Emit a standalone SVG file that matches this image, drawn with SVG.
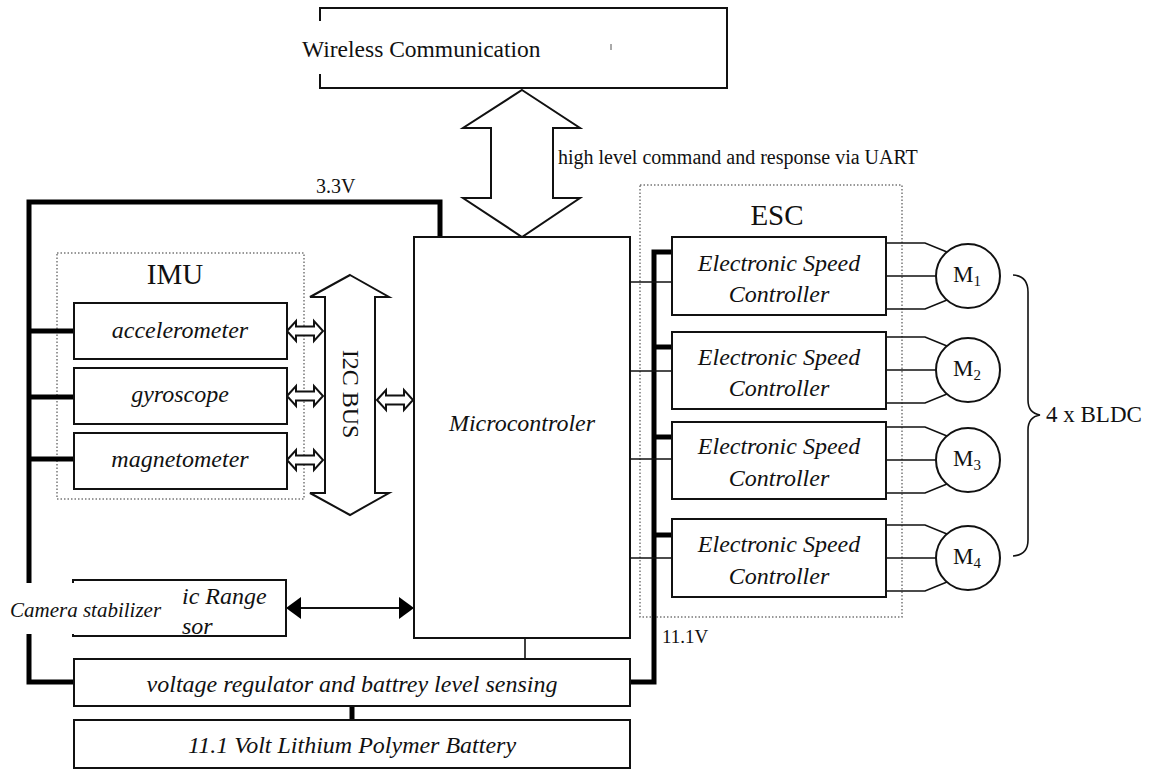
<svg xmlns="http://www.w3.org/2000/svg" width="1164" height="769" viewBox="0 0 1164 769">
<style>
text{font-family:"Liberation Serif","Times New Roman",serif;fill:#111}
.it{font-style:italic;text-anchor:middle;font-size:24px}
.box{fill:#fff;stroke:#111;stroke-width:2}
.dot{fill:none;stroke:#777;stroke-width:1.5;stroke-dasharray:1.5 2}
.pw{fill:none;stroke:#000;stroke-width:5;stroke-linejoin:miter}
.th{fill:none;stroke:#111;stroke-width:1.6}
.arr{fill:#fff;stroke:#111;stroke-width:2;stroke-linejoin:miter}
</style>
<defs>
<polygon id="sarr" points="0,0 9,-10 9,-4.5 27,-4.5 27,-10 36,0 27,10 27,4.5 9,4.5 9,10" class="arr"/>
</defs>
<rect width="1164" height="769" fill="#fff"/>

<g id="groups">
<rect class="dot" x="57" y="253" width="247" height="246"/>
<text x="175" y="284" font-size="29" text-anchor="middle">IMU</text>
<rect class="dot" x="640" y="185" width="262" height="432"/>
<text x="777" y="225" font-size="29" text-anchor="middle">ESC</text>
</g>

<g id="connectors">
<!-- 3.3V power -->
<polyline class="pw" points="440,237 440,202 29,202 29,682 74,682"/>
<line class="pw" x1="29" y1="331" x2="74" y2="331"/>
<line class="pw" x1="29" y1="397" x2="74" y2="397"/>
<line class="pw" x1="29" y1="459" x2="74" y2="459"/>
<!-- 11.1V power -->
<polyline class="pw" points="630,682 654,682 654,252 672,252"/>
<line class="pw" x1="654" y1="347" x2="672" y2="347"/>
<line class="pw" x1="654" y1="437" x2="672" y2="437"/>
<line class="pw" x1="654" y1="535" x2="672" y2="535"/>
<line class="pw" x1="352" y1="706" x2="352" y2="720"/>
<!-- MCU to ESC signals -->
<line class="th" x1="630" y1="282" x2="672" y2="282"/>
<line class="th" x1="630" y1="371" x2="672" y2="371"/>
<line class="th" x1="630" y1="459" x2="672" y2="459"/>
<line class="th" x1="628" y1="558" x2="672" y2="558"/>
<line class="th" x1="525" y1="638" x2="525" y2="659"/>
<!-- ESC to motors -->
<path class="th" d="M886 243 H925 L947 252 M886 276 H936 M886 309 H925 L947 300"/>
<path class="th" d="M886 337 H925 L947 346 M886 370 H936 M886 403 H925 L947 394"/>
<path class="th" d="M886 427 H925 L947 436 M886 460 H936 M886 493 H925 L947 484"/>
<path class="th" d="M886 525 H925 L947 534 M886 558 H936 M886 591 H925 L947 582"/>
<!-- UART big arrow -->
<polygon class="arr" points="522,90 580,128 553,128 553,198 580,198 522,237 463,198 491,198 491,128 463,128"/>
<!-- I2C bus arrow -->
<polygon class="arr" points="350,275 389,297 375,297 375,493 389,493 350,515 310,493 325,493 325,297 310,297"/>
<use href="#sarr" x="287" y="331"/>
<use href="#sarr" x="287" y="396"/>
<use href="#sarr" x="287" y="460"/>
<use href="#sarr" x="377" y="400"/>
<!-- range sensor arrow -->
<line x1="298" y1="608" x2="402" y2="608" stroke="#111" stroke-width="2"/>
<polygon points="286,608 301,597 301,619" fill="#000"/>
<polygon points="414,608 399,597 399,619" fill="#000"/>
<!-- brace -->
<path class="th" d="M1013 275 Q1028 276 1028 292 L1028 400 Q1028 413 1040 415 Q1028 417 1028 430 L1028 540 Q1028 555 1013 556"/>
</g>

<text x="316" y="193" font-size="20">3.3V</text>
<text x="662" y="643" font-size="19">11.1V</text>
<text x="558" y="164" font-size="20">high level command and response via UART</text>
<text x="1046" y="422" font-size="23">4 x BLDC</text>

<g id="wireless">
<rect class="box" x="320" y="8" width="407" height="80"/>
<rect x="300" y="21" width="311" height="53" fill="#fff"/>
<line x1="611" y1="44" x2="611" y2="50" stroke="#555" stroke-width="1"/>
<text x="302" y="57" font-size="23.5">Wireless Communication</text>
</g>

<g id="accelerometer"><rect class="box" x="74" y="303" width="213" height="56"/><text class="it" x="180" y="338">accelerometer</text></g>
<g id="gyroscope"><rect class="box" x="74" y="368" width="213" height="56"/><text class="it" x="180" y="402">gyroscope</text></g>
<g id="magnetometer"><rect class="box" x="74" y="433" width="213" height="56"/><text class="it" x="180" y="467">magnetometer</text></g>

<text x="0" y="0" font-size="24" text-anchor="middle" transform="translate(343 394) rotate(90)">I2C BUS</text>

<g id="microcontroller"><rect class="box" x="414" y="237" width="216" height="401"/><text class="it" x="522" y="431">Microcontroler</text></g>

<g id="esc1"><rect class="box" x="672" y="237" width="214" height="78"/><text class="it" x="779" y="271">Electronic Speed</text><text class="it" x="779" y="302">Controller</text></g>
<g id="esc2"><rect class="box" x="672" y="332" width="214" height="77"/><text class="it" x="779" y="365">Electronic Speed</text><text class="it" x="779" y="396">Controller</text></g>
<g id="esc3"><rect class="box" x="672" y="422" width="214" height="77"/><text class="it" x="779" y="454">Electronic Speed</text><text class="it" x="779" y="486">Controller</text></g>
<g id="esc4"><rect class="box" x="672" y="519" width="214" height="78"/><text class="it" x="779" y="552">Electronic Speed</text><text class="it" x="779" y="584">Controller</text></g>

<g id="m1"><circle cx="968" cy="276" r="32" class="box"/><text x="953" y="282" font-size="23">M<tspan font-size="15" dy="4">1</tspan></text></g>
<g id="m2"><circle cx="968" cy="370" r="32" class="box"/><text x="953" y="376" font-size="23">M<tspan font-size="15" dy="4">2</tspan></text></g>
<g id="m3"><circle cx="968" cy="460" r="32" class="box"/><text x="953" y="466" font-size="23">M<tspan font-size="15" dy="4">3</tspan></text></g>
<g id="m4"><circle cx="968" cy="558" r="32" class="box"/><text x="953" y="564" font-size="23">M<tspan font-size="15" dy="4">4</tspan></text></g>

<g id="range-sensor">
<rect class="box" x="73" y="580" width="213" height="56"/>
<text x="182" y="604" font-size="24" font-style="italic">ic Range</text>
<text x="182" y="634" font-size="24" font-style="italic">sor</text>
</g>
<g id="camera-stabilizer">
<rect x="0" y="583" width="181" height="51" fill="#fff"/>
<text x="10" y="617" font-size="21" font-style="italic">Camera stabilizer</text>
</g>

<g id="voltage-regulator"><rect class="box" x="74" y="659" width="556" height="47"/><text class="it" x="352" y="692">voltage regulator and battrey level sensing</text></g>
<g id="battery"><rect class="box" x="74" y="720" width="556" height="48"/><text class="it" x="352" y="753">11.1 Volt Lithium Polymer Battery</text></g>
</svg>
